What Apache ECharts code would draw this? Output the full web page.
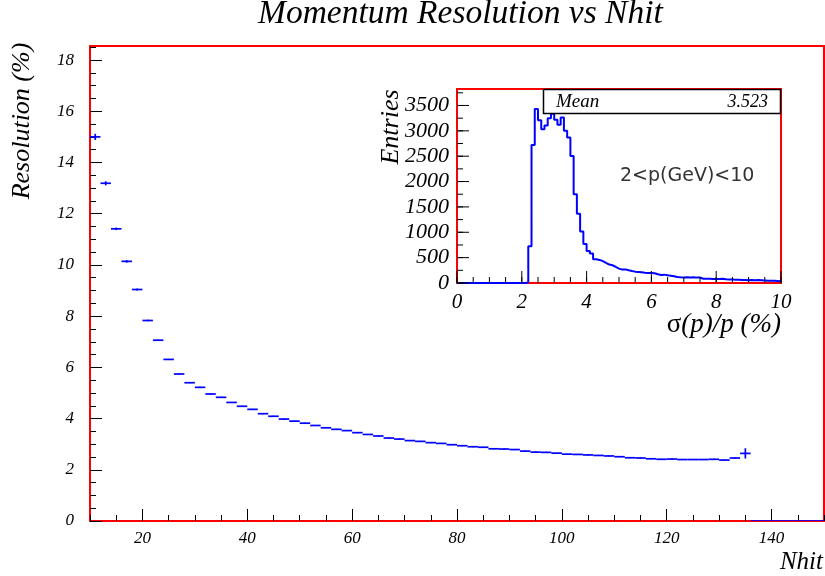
<!DOCTYPE html>
<html>
<head>
<meta charset="utf-8">
<title>Momentum Resolution vs Nhit</title>
<script src="https://cdn.jsdelivr.net/npm/echarts@6/dist/echarts.min.js"></script>
<style>
  html, body { margin: 0; padding: 0; background: #fff; }
  #chart { width: 825px; height: 576px; }
</style>
</head>
<body>
<div id="chart"></div>
<script>
// main plot: resolution (%) per Nhit bin, bins are 2 wide
const nhitBins = [11, 13, 15, 17, 19, 21, 23, 25, 27, 29, 31, 33, 35, 37, 39, 41, 43, 45, 47, 49,
  51, 53, 55, 57, 59, 61, 63, 65, 67, 69, 71, 73, 75, 77, 79, 81, 83, 85, 87, 89,
  91, 93, 95, 97, 99, 101, 103, 105, 107, 109, 111, 113, 115, 117, 119, 121, 123, 125, 127, 129,
  131, 133, 135, 137, 139, 141, 143, 145, 147, 149];
const resolution = [15.00, 13.19, 11.41, 10.14, 9.04, 7.83, 7.06, 6.31, 5.74, 5.40, 5.22, 4.96, 4.83, 4.63, 4.48, 4.36, 4.19, 4.09, 3.98, 3.90,
  3.82, 3.73, 3.64, 3.58, 3.53, 3.45, 3.38, 3.32, 3.24, 3.20, 3.14, 3.11, 3.06, 3.03, 2.98, 2.94, 2.90, 2.88, 2.82, 2.81,
  2.79, 2.73, 2.69, 2.68, 2.65, 2.61, 2.60, 2.58, 2.56, 2.54, 2.51, 2.47, 2.46, 2.43, 2.41, 2.42, 2.40, 2.40, 2.40, 2.41,
  2.38, 2.46, 2.64, 0, 0, 0, 0, 0, 0, 0];
const resolutionErr = [0.12, 0.08, 0.05, 0.05, 0.04, 0.03, 0.02, 0.02, 0.02, 0.02, 0.02, 0.02, 0.02, 0.02, 0.02, 0.02, 0.02, 0.02, 0.02, 0.02,
  0.02, 0.02, 0.02, 0.02, 0.02, 0.02, 0.02, 0.02, 0.02, 0.02, 0.02, 0.02, 0.02, 0.02, 0.02, 0.02, 0.02, 0.02, 0.02, 0.02,
  0.02, 0.02, 0.02, 0.02, 0.02, 0.02, 0.02, 0.02, 0.02, 0.02, 0.02, 0.02, 0.02, 0.02, 0.02, 0.02, 0.02, 0.02, 0.02, 0.02,
  0.02, 0.03, 0.20, 0, 0, 0, 0, 0, 0, 0];
const mainXTicks = [20, 40, 60, 80, 100, 120, 140];
const mainYTicks = [0, 2, 4, 6, 8, 10, 12, 14, 16, 18];

// inset: sigma(p)/p histogram, 100 bins of 0.1 from 0 to 10
const histCounts = [
  0, 0, 0, 0, 0, 0, 0, 0, 0, 0,
  0, 0, 0, 0, 0, 0, 0, 0, 0, 0,
  0, 8, 726, 2723, 3429, 3210, 3030, 3105, 3250, 3335,
  3220, 3120, 3265, 3000, 2870, 2505, 1750, 1365, 1015, 770,
  630, 580, 470, 455, 430, 396, 363, 350, 316, 284,
  264, 268, 251, 237, 224, 218, 211, 204, 198, 196,
  191, 171, 158, 165, 152, 145, 132, 119, 112, 108,
  114, 110, 112, 106, 109, 84, 82, 86, 80, 78,
  80, 82, 72, 70, 68, 64, 66, 60, 58, 56,
  60, 55, 58, 54, 50, 46, 44, 42, 40, 36];
const histMean = "3.523";
const insetXTicks = [0, 2, 4, 6, 8, 10];
const insetYTicks = [0, 500, 1000, 1500, 2000, 2500, 3000, 3500];

const SERIF = "'Liberation Serif', 'Times New Roman', serif";
const blue = "#0000ff";

function minorList(from, to, step) {
  const out = [];
  for (let v = from; v <= to + 1e-9; v += step) out.push(+v.toFixed(3));
  return out;
}

const histData = histCounts.map((c, i) => [i / 10, c]);
histData.push([10, histCounts[histCounts.length - 1]]);

// inset ticks: [x, y, length px, 0 = bottom axis / 1 = left axis]
const insetTickData = []
  .concat(insetXTicks.map((v) => [v, 0, 12, 0]))
  .concat(minorList(0, 10, 0.5).map((v) => [v, 0, 6, 0]))
  .concat(insetYTicks.map((v) => [0, v, 12, 1]))
  .concat(minorList(0, 3750, 250).map((v) => [0, v, 6, 1]));

const chart = echarts.init(document.getElementById("chart"));

const tickLabel = (size) => ({
  fontFamily: SERIF,
  fontStyle: "italic",
  fontSize: size,
  color: "#000",
  formatter: (v) => String(v)
});

// one axis per tick length (ROOT style ticks point into the frame)
function axis(kind, grid, min, max, ticks, len, label) {
  return {
    gridIndex: grid, type: "value", min: min, max: max,
    position: kind === "x" ? "bottom" : "left",
    axisLine: { show: false, onZero: false },
    axisTick: { show: len > 0, customValues: ticks, inside: true, length: len, lineStyle: { color: "#000", width: 1 } },
    axisLabel: label ? Object.assign({ customValues: ticks }, label) : { show: false },
    splitLine: { show: false }
  };
}

chart.setOption({
  animation: false,
  backgroundColor: "#fff",
  grid: [
    { left: 90, top: 46, width: 734, height: 475, show: true, borderColor: "#ff0000", borderWidth: 2, backgroundColor: "transparent" },
    { left: 457, top: 89, width: 324, height: 194, show: true, borderColor: "#ff0000", borderWidth: 2, backgroundColor: "transparent" }
  ],
  xAxis: [
    axis("x", 0, 10, 150, mainXTicks, 12, Object.assign({ margin: 9 }, tickLabel(17))),
    axis("x", 0, 10, 150, minorList(10, 150, 5), 6, null),
    axis("x", 1, 0, 10, insetXTicks, 0, Object.assign({ margin: 9 }, tickLabel(21)))
  ],
  yAxis: [
    axis("y", 0, 0, 18.55, mainYTicks, 12, Object.assign({ margin: 16 }, tickLabel(17))),
    axis("y", 0, 0, 18.55, minorList(0, 18.5, 0.5), 6, null),
    axis("y", 1, 0, 3825, insetYTicks, 0, Object.assign({ margin: 8 }, tickLabel(22)))
  ],
  series: [
    {
      // points drawn ROOT style: horizontal bin bar plus vertical error bar
      type: "custom",
      xAxisIndex: 0,
      yAxisIndex: 0,
      clip: true,
      data: nhitBins.map((n, i) => [n, resolution[i], resolutionErr[i]]),
      renderItem: function (params, api) {
        const x = api.value(0), y = api.value(1), e = api.value(2);
        const l = api.coord([x - 1, y]);
        const r = api.coord([x + 1, y]);
        const lo = api.coord([x, y - e]);
        const hi = api.coord([x, y + e]);
        const style = { stroke: blue, lineWidth: 1.7 };
        return {
          type: "group",
          children: [
            { type: "line", shape: { x1: l[0], y1: l[1], x2: r[0], y2: r[1] }, style: style },
            { type: "line", shape: { x1: lo[0], y1: lo[1], x2: hi[0], y2: hi[1] }, style: style }
          ]
        };
      }
    },
    {
      // tick marks of the inset, placed through the inset axes
      type: "custom",
      xAxisIndex: 2,
      yAxisIndex: 2,
      clip: false,
      z: 5,
      data: insetTickData,
      renderItem: function (params, api) {
        const pt = api.coord([api.value(0), api.value(1)]);
        const len = api.value(2);
        const shape = api.value(3) === 1
          ? { x1: pt[0], y1: pt[1], x2: pt[0] + len, y2: pt[1] }
          : { x1: pt[0], y1: pt[1], x2: pt[0], y2: pt[1] - len };
        return { type: "line", shape: shape, style: { stroke: "#000", lineWidth: 1 } };
      }
    },
    {
      type: "line",
      xAxisIndex: 2,
      yAxisIndex: 2,
      step: "end",
      symbol: "none",
      data: histData,
      lineStyle: { color: blue, width: 2 },
      z: 4
    }
  ],
  graphic: [
    {
      type: "text", left: 258, top: -3,
      style: { text: "Momentum Resolution vs Nhit", font: "italic 33.5px " + SERIF, fill: "#000" }
    },
    {
      type: "text", x: 22, y: 121, rotation: Math.PI / 2,
      style: { text: "Resolution (%)", font: "italic 26px " + SERIF, fill: "#000", align: "center", verticalAlign: "middle" }
    },
    {
      type: "text", x: 823, y: 562,
      style: { text: "Nhit", font: "italic 25px " + SERIF, fill: "#000", align: "right", verticalAlign: "middle" }
    },
    {
      type: "text", x: 391, y: 127, rotation: Math.PI / 2, z: 10,
      style: { text: "Entries", font: "italic 26px " + SERIF, fill: "#000", align: "center", verticalAlign: "middle" }
    },
    {
      type: "text", x: 781, y: 325, z: 10,
      style: {
        text: "{s|σ}{i|(p)/p (%)}",
        align: "right", verticalAlign: "middle",
        rich: {
          s: { font: "27px " + SERIF, fill: "#000" },
          i: { font: "italic 27px " + SERIF, fill: "#000" }
        }
      }
    },
    {
      type: "rect", z: 10,
      shape: { x: 543.5, y: 89.5, width: 237, height: 24 },
      style: { fill: "#fff", stroke: "#000", lineWidth: 1.5 }
    },
    {
      type: "text", x: 556, y: 102, z: 11,
      style: { text: "Mean", font: "italic 19px " + SERIF, fill: "#000", verticalAlign: "middle" }
    },
    {
      type: "text", x: 768, y: 102, z: 11,
      style: { text: histMean, font: "italic 18px " + SERIF, fill: "#000", align: "right", verticalAlign: "middle" }
    },
    {
      type: "text", x: 620, y: 176, z: 11,
      style: { text: "2<p(GeV)<10", font: "19px 'DejaVu Sans', sans-serif", fill: "#333", verticalAlign: "middle" }
    }
  ]
});
</script>
</body>
</html>
